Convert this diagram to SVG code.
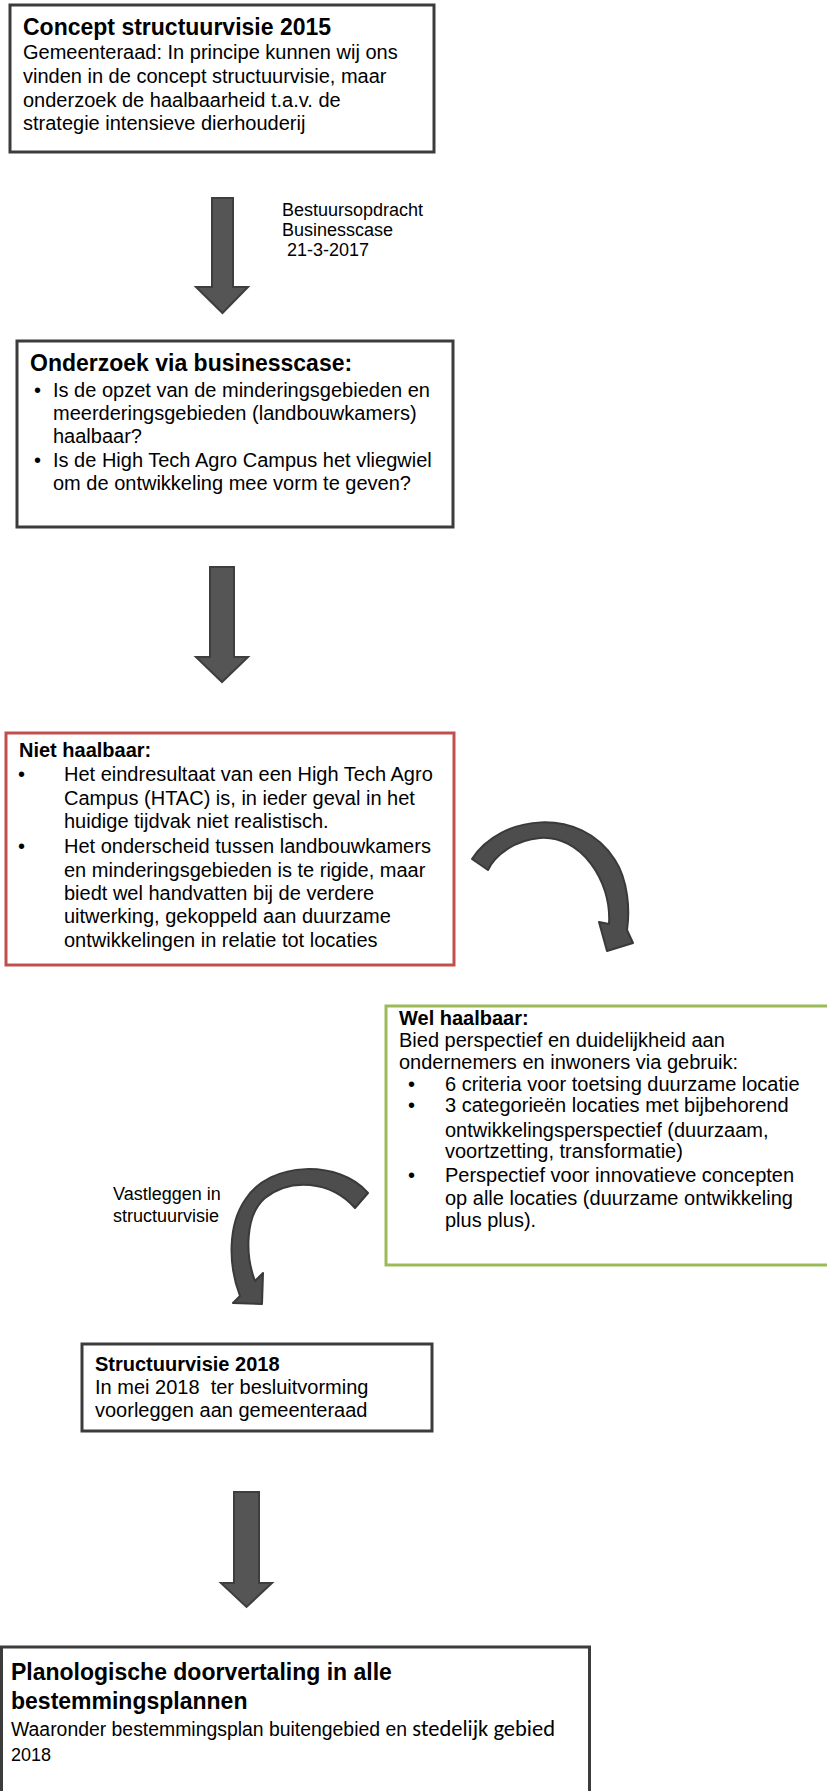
<svg xmlns="http://www.w3.org/2000/svg" width="827" height="1791" viewBox="0 0 827 1791">
<style>
  text { font-family: "Liberation Sans", Arial, sans-serif; fill: #000; }
  .t { font-size: 23px; font-weight: bold; }
  .tb { font-size: 20px; font-weight: bold; }
  .b { font-size: 20px; }
  .l { font-size: 18px; }
  .box { fill: #fff; stroke: #3c3c3c; stroke-width: 3; }
  .red { fill: #fff; stroke: #c0504d; stroke-width: 3; }
  .green { fill: #fff; stroke: #9bbb59; stroke-width: 3; }
  .arr { fill: #555555; stroke: #3e3e3e; stroke-width: 2; stroke-linejoin: miter; }
  .carr { fill: #4d4d4d; stroke: #3a3a3a; stroke-width: 2; stroke-linejoin: round; }
</style>
<rect width="827" height="1791" fill="#fff"/>

<g id="connectors">
  <path class="arr" d="M212 198 H233 V287 H248 L222.5 313 L196 287 H212 Z"/>
  <path class="arr" d="M210 567 H234 V657 H248 L222 682 L196 657 H210 Z"/>
  <path class="arr" d="M234 1492 H259 V1583 H272 L246.5 1607 L221 1583 H234 Z"/>
  <path class="carr" d="M472 859 C500 815, 580 805, 615 860 C628 880, 630 910, 627 930 L633 943 L607 951 L599 922 L609 924 C612 880, 580 835, 540 838 C515 840, 495 855, 488 870 Z"/>
  <path class="carr" d="M368 1193 C340 1160, 270 1160, 245 1200 C228 1225, 228 1265, 240 1296 L233 1303 L262 1304 L263 1273 L255 1281 C245 1255, 245 1215, 265 1198 C290 1178, 330 1180, 355 1208 Z"/>
  <text class="l" x="282" y="216">Bestuursopdracht</text>
  <text class="l" x="282" y="236">Businesscase</text>
  <text class="l" x="287" y="256">21-3-2017</text>
  <text class="l" x="113" y="1200">Vastleggen in</text>
  <text class="l" x="113" y="1222">structuurvisie</text>
</g>

<g id="node-concept">
  <rect class="box" x="10" y="5" width="424" height="147"/>
  <text class="t" x="23" y="35">Concept structuurvisie 2015</text>
  <text class="b" x="23" y="59">Gemeenteraad: In principe kunnen wij ons</text>
  <text class="b" x="23" y="83">vinden in de concept structuurvisie, maar</text>
  <text class="b" x="23" y="107">onderzoek de haalbaarheid t.a.v. de</text>
  <text class="b" x="23" y="130">strategie intensieve dierhouderij</text>
</g>

<g id="node-onderzoek">
  <rect class="box" x="17" y="341" width="436" height="186"/>
  <text class="t" x="30" y="371">Onderzoek via businesscase:</text>
  <text class="b" x="34" y="397">•</text>
  <text class="b" x="53" y="397">Is de opzet van de minderingsgebieden en</text>
  <text class="b" x="53" y="420">meerderingsgebieden (landbouwkamers)</text>
  <text class="b" x="53" y="443">haalbaar?</text>
  <text class="b" x="34" y="467">•</text>
  <text class="b" x="53" y="467">Is de High Tech Agro Campus het vliegwiel</text>
  <text class="b" x="53" y="490">om de ontwikkeling mee vorm te geven?</text>
</g>

<g id="node-niet">
  <rect class="red" x="6" y="733" width="448" height="232"/>
  <text class="tb" x="19" y="757">Niet haalbaar:</text>
  <text class="b" x="18" y="781" font-size="22">•</text>
  <text class="b" x="64" y="781">Het eindresultaat van een High Tech Agro</text>
  <text class="b" x="64" y="805">Campus (HTAC) is, in ieder geval in het</text>
  <text class="b" x="64" y="828">huidige tijdvak niet realistisch.</text>
  <text class="b" x="18" y="853" font-size="22">•</text>
  <text class="b" x="64" y="853">Het onderscheid tussen landbouwkamers</text>
  <text class="b" x="64" y="877">en minderingsgebieden is te rigide, maar</text>
  <text class="b" x="64" y="900">biedt wel handvatten bij de verdere</text>
  <text class="b" x="64" y="923">uitwerking, gekoppeld aan duurzame</text>
  <text class="b" x="64" y="947">ontwikkelingen in relatie tot locaties</text>
</g>

<g id="node-wel">
  <rect class="green" x="386" y="1006" width="450" height="259"/>
  <text class="tb" x="399" y="1025">Wel haalbaar:</text>
  <text class="b" x="399" y="1047">Bied perspectief en duidelijkheid aan</text>
  <text class="b" x="399" y="1069">ondernemers en inwoners via gebruik:</text>
  <text class="b" x="408" y="1091" font-size="22">•</text>
  <text class="b" x="445" y="1091">6 criteria voor toetsing duurzame locatie</text>
  <text class="b" x="408" y="1112" font-size="22">•</text>
  <text class="b" x="445" y="1112">3 categorieën locaties met bijbehorend</text>
  <text class="b" x="445" y="1137">ontwikkelingsperspectief (duurzaam,</text>
  <text class="b" x="445" y="1158">voortzetting, transformatie)</text>
  <text class="b" x="408" y="1182" font-size="22">•</text>
  <text class="b" x="445" y="1182">Perspectief voor innovatieve concepten</text>
  <text class="b" x="445" y="1205">op alle locaties (duurzame ontwikkeling</text>
  <text class="b" x="445" y="1227">plus plus).</text>
</g>

<g id="node-structuurvisie">
  <rect class="box" x="82" y="1344" width="350" height="87"/>
  <text class="tb" x="95" y="1371">Structuurvisie 2018</text>
  <text class="b" x="95" y="1394" xml:space="preserve">In mei 2018  ter besluitvorming</text>
  <text class="b" x="95" y="1417">voorleggen aan gemeenteraad</text>
</g>

<g id="node-planologische">
  <rect class="box" x="1.5" y="1647" width="588" height="170"/>
  <text x="11" y="1680" font-size="23" font-weight="bold">Planologische doorvertaling in alle</text>
  <text x="11" y="1709" font-size="23" font-weight="bold">bestemmingsplannen</text>
  <text x="11" y="1736" font-size="19.4">Waaronder bestemmingsplan buitengebied en <tspan font-family="Carlito, Lato, sans-serif" font-size="22.5">stedelijk gebied</tspan></text>
  <text x="11" y="1761" font-size="18">2018</text>
</g>
</svg>
